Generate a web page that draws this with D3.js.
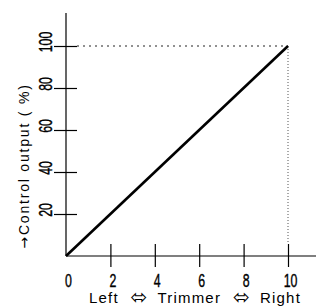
<!DOCTYPE html>
<html>
<head>
<meta charset="utf-8">
<script src="https://cdn.jsdelivr.net/npm/d3@7"></script>
<style>
  body { margin: 0; background: #fff; }
  svg { display: block; }
</style>
</head>
<body>
<div id="chart"></div>
<script>
const trimmerPos = [0, 10];
const outputPct = [0, 100];
const xTicks = [0, 2, 4, 6, 8, 10];
const yTicks = [20, 40, 60, 80, 100];
const xTitleParts = ['Left', '\u2B04', 'Trimmer', '\u2B04', 'Right'];
const yTitleParts = ['\u2192', 'Control output ( %)'];

const W = 316, H = 308;
const svg = d3.select('#chart').append('svg')
  .attr('width', W)
  .attr('height', H);

const x = d3.scaleLinear().domain([0, 10]).range([66, 288]);
const y = d3.scaleLinear().domain([0, 100]).range([256, 46]);
const yTop = 13;

const numFont = '"Liberation Sans", Arial, sans-serif';
const arrowFont = '"DejaVu Sans", sans-serif';

// x axis, ticks cross the line
const gx = svg.append('g')
  .attr('transform', `translate(0,${y(0)})`)
  .call(d3.axisBottom(x).tickValues(xTicks.slice(1)).tickSize(11).tickFormat(''));
gx.select('.domain').remove();
gx.selectAll('.tick line').attr('y1', -12).attr('stroke', '#000').attr('stroke-width', 1.2);
svg.append('line')
  .attr('x1', x(0)).attr('x2', W)
  .attr('y1', y(0)).attr('y2', y(0))
  .attr('stroke', '#000').attr('stroke-width', 1.2);

svg.selectAll('.xlab')
  .data(xTicks)
  .enter()
  .append('text')
  .attr('transform', d => `translate(${x(d) + 2.5},286.5) scale(0.65,1)`)
  .attr('text-anchor', 'middle')
  .style('font-family', numFont)
  .style('font-size', '19px')
  .style('stroke', '#000')
  .style('stroke-width', 0.4)
  .text(d => d);

// y axis
const gy = svg.append('g')
  .attr('transform', `translate(${x(0)},0)`)
  .call(d3.axisLeft(y).tickValues(yTicks).tickSize(12).tickFormat(''));
gy.select('.domain').remove();
gy.selectAll('.tick line').attr('x1', 11).attr('stroke', '#000').attr('stroke-width', 1.2);
svg.append('line')
  .attr('x1', x(0)).attr('x2', x(0))
  .attr('y1', y(0)).attr('y2', yTop)
  .attr('stroke', '#000').attr('stroke-width', 1.2);

svg.selectAll('.ylab')
  .data(yTicks)
  .enter()
  .append('text')
  .attr('transform', d => `translate(52,${y(d) - 4}) rotate(-90) scale(0.65,1)`)
  .attr('text-anchor', 'middle')
  .style('font-family', numFont)
  .style('font-size', '19px')
  .style('stroke', '#000')
  .style('stroke-width', 0.4)
  .text(d => d);

// dotted guides to the end point
const last = trimmerPos.length - 1;
svg.append('line')
  .attr('x1', x(0) + 11).attr('x2', x(trimmerPos[last]))
  .attr('y1', y(outputPct[last])).attr('y2', y(outputPct[last]))
  .attr('stroke', '#222').attr('stroke-width', 1)
  .attr('stroke-dasharray', '2 4');
svg.append('line')
  .attr('x1', x(trimmerPos[last])).attr('x2', x(trimmerPos[last]))
  .attr('y1', y(outputPct[last])).attr('y2', y(0) - 12)
  .attr('stroke', '#555').attr('stroke-width', 1)
  .attr('stroke-dasharray', '1 2');

// the line
const pts = trimmerPos.map((d, i) => [d, outputPct[i]]);
svg.append('path')
  .datum(pts)
  .attr('d', d3.line().x(d => x(d[0])).y(d => y(d[1])))
  .attr('fill', 'none')
  .attr('stroke', '#000')
  .attr('stroke-width', 2.6);

// titles
const xt = svg.append('text')
  .attr('x', 195).attr('y', 303)
  .attr('text-anchor', 'middle')
  .style('font-family', '"Liberation Sans", Arial, sans-serif')
  .style('font-size', '15px')
  .style('letter-spacing', '1.2px')
  .style('word-spacing', '4px');
xt.selectAll('tspan')
  .data(xTitleParts)
  .enter()
  .append('tspan')
  .style('font-family', d => d === '\u2B04' ? arrowFont : null)
  .style('font-size', d => d === '\u2B04' ? '20px' : null)
  .style('baseline-shift', d => d === '\u2B04' ? '-1px' : null)
  .text((d, i) => (i ? ' ' : '') + d);

const yt = svg.append('text')
  .attr('transform', 'translate(29,166) rotate(-90)')
  .attr('text-anchor', 'middle')
  .style('font-family', '"Liberation Sans", Arial, sans-serif')
  .style('font-size', '14px')
  .style('letter-spacing', '1.8px');
yt.selectAll('tspan')
  .data(yTitleParts)
  .enter()
  .append('tspan')
  .style('font-family', (d, i) => i === 0 ? arrowFont : null)
  .text(d => d);
</script>
</body>
</html>
